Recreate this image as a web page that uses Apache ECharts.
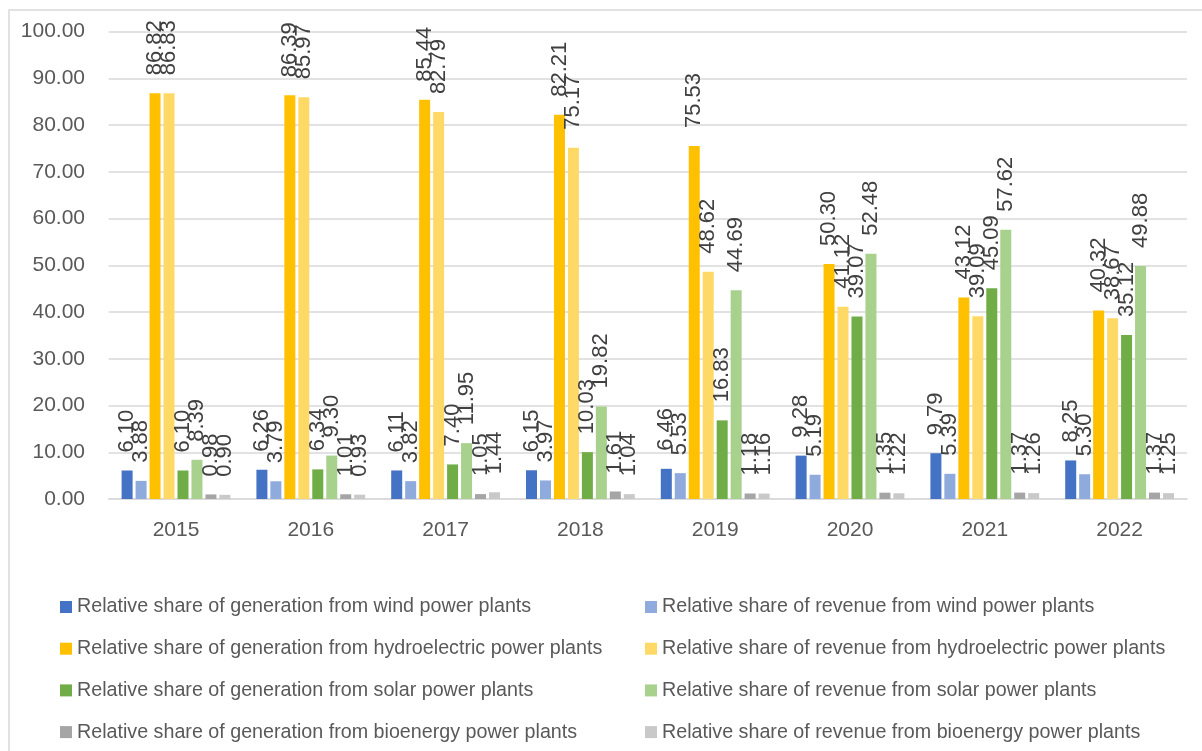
<!DOCTYPE html>
<html>
<head>
<meta charset="utf-8">
<title>Relative shares by source</title>
<script src="https://cdn.jsdelivr.net/npm/echarts@6/dist/echarts.min.js"></script>
<style>
  html, body { margin: 0; padding: 0; background: #fff; }
  #main { width: 1202px; height: 751px; }
</style>
</head>
<body>
<div id="main"></div>
<script>
const years = ['2015', '2016', '2017', '2018', '2019', '2020', '2021', '2022']
const yTicks = [0, 10, 20, 30, 40, 50, 60, 70, 80, 90, 100]

const windGen = [6.10, 6.26, 6.11, 6.15, 6.46, 9.28, 9.79, 8.25]
const windRev = [3.88, 3.79, 3.82, 3.97, 5.53, 5.19, 5.39, 5.30]
const hydroGen = [86.82, 86.39, 85.44, 82.21, 75.53, 50.30, 43.12, 40.32]
const hydroRev = [86.83, 85.97, 82.79, 75.17, 48.62, 41.12, 39.09, 38.67]
const solarGen = [6.10, 6.34, 7.40, 10.03, 16.83, 39.07, 45.09, 35.12]
const solarRev = [8.39, 9.30, 11.95, 19.82, 44.69, 52.48, 57.62, 49.88]
const bioGen = [0.98, 1.01, 1.05, 1.61, 1.18, 1.35, 1.37, 1.37]
const bioRev = [0.90, 0.93, 1.44, 1.04, 1.16, 1.22, 1.26, 1.25]

const seriesNames = [
  'Relative share of generation from wind power plants',
  'Relative share of revenue from wind power plants',
  'Relative share of generation from hydroelectric power plants',
  'Relative share of revenue from hydroelectric power plants',
  'Relative share of generation from solar power plants',
  'Relative share of revenue from solar power plants',
  'Relative share of generation from bioenergy power plants',
  'Relative share of revenue from bioenergy power plants'
]
const seriesData = [windGen, windRev, hydroGen, hydroRev, solarGen, solarRev, bioGen, bioRev]
const colors = ['#4472C4', '#8FAADC', '#FFC000', '#FFD966', '#70AD47', '#A9D18E', '#A5A5A5', '#C9C9C9']

const font = '"Liberation Sans", Arial, sans-serif'

const chart = echarts.init(document.getElementById('main'))

// one legend per item so the two columns line up like the original
const legends = seriesNames.map((name, i) => ({
  data: [name],
  left: i % 2 ? 645 : 60,
  top: 597 + Math.floor(i / 2) * 41.7,
  padding: 0,
  itemWidth: 12,
  itemHeight: 12,
  itemGap: 0,
  icon: 'rect',
  selectedMode: false,
  textStyle: { color: '#595959', fontSize: 19.7, fontFamily: font }
}))

const option = {
  color: colors,
  animation: false,
  graphic: [
    {
      type: 'rect',
      shape: { x: 9, y: 10, width: 1400, height: 900 },
      style: { fill: 'none', stroke: '#d9d9d9', lineWidth: 1.5 },
      silent: true
    }
  ],
  legend: legends,
  grid: {
    left: 108.6,
    right: 15,
    top: 31.7,
    height: 467.3,
    containLabel: false
  },
  xAxis: {
    type: 'category',
    data: years,
    axisTick: { show: false },
    axisLine: { lineStyle: { color: '#d9d9d9', width: 1.5 } },
    axisLabel: { color: '#595959', fontSize: 21, fontFamily: font, margin: 21 }
  },
  yAxis: {
    type: 'value',
    min: yTicks[0],
    max: yTicks[yTicks.length - 1],
    interval: 10,
    axisLine: { show: false },
    axisTick: { show: false },
    splitLine: { lineStyle: { color: '#d9d9d9', width: 1.5 } },
    axisLabel: {
      color: '#595959',
      fontSize: 21,
      fontFamily: font,
      margin: 23.6,
      formatter: (v) => v.toFixed(2)
    }
  },
  series: seriesNames.map((name, i) => ({
    name: name,
    type: 'bar',
    data: seriesData[i],
    barWidth: 11,
    barGap: '27%',
    itemStyle: { color: colors[i] },
    label: {
      show: true,
      position: 'top',
      distance: 18,
      rotate: 90,
      align: 'left',
      verticalAlign: 'middle',
      color: '#404040',
      fontSize: 22,
      fontFamily: font,
      formatter: (p) => p.value.toFixed(2)
    }
  }))
}

chart.setOption(option)
</script>
</body>
</html>
